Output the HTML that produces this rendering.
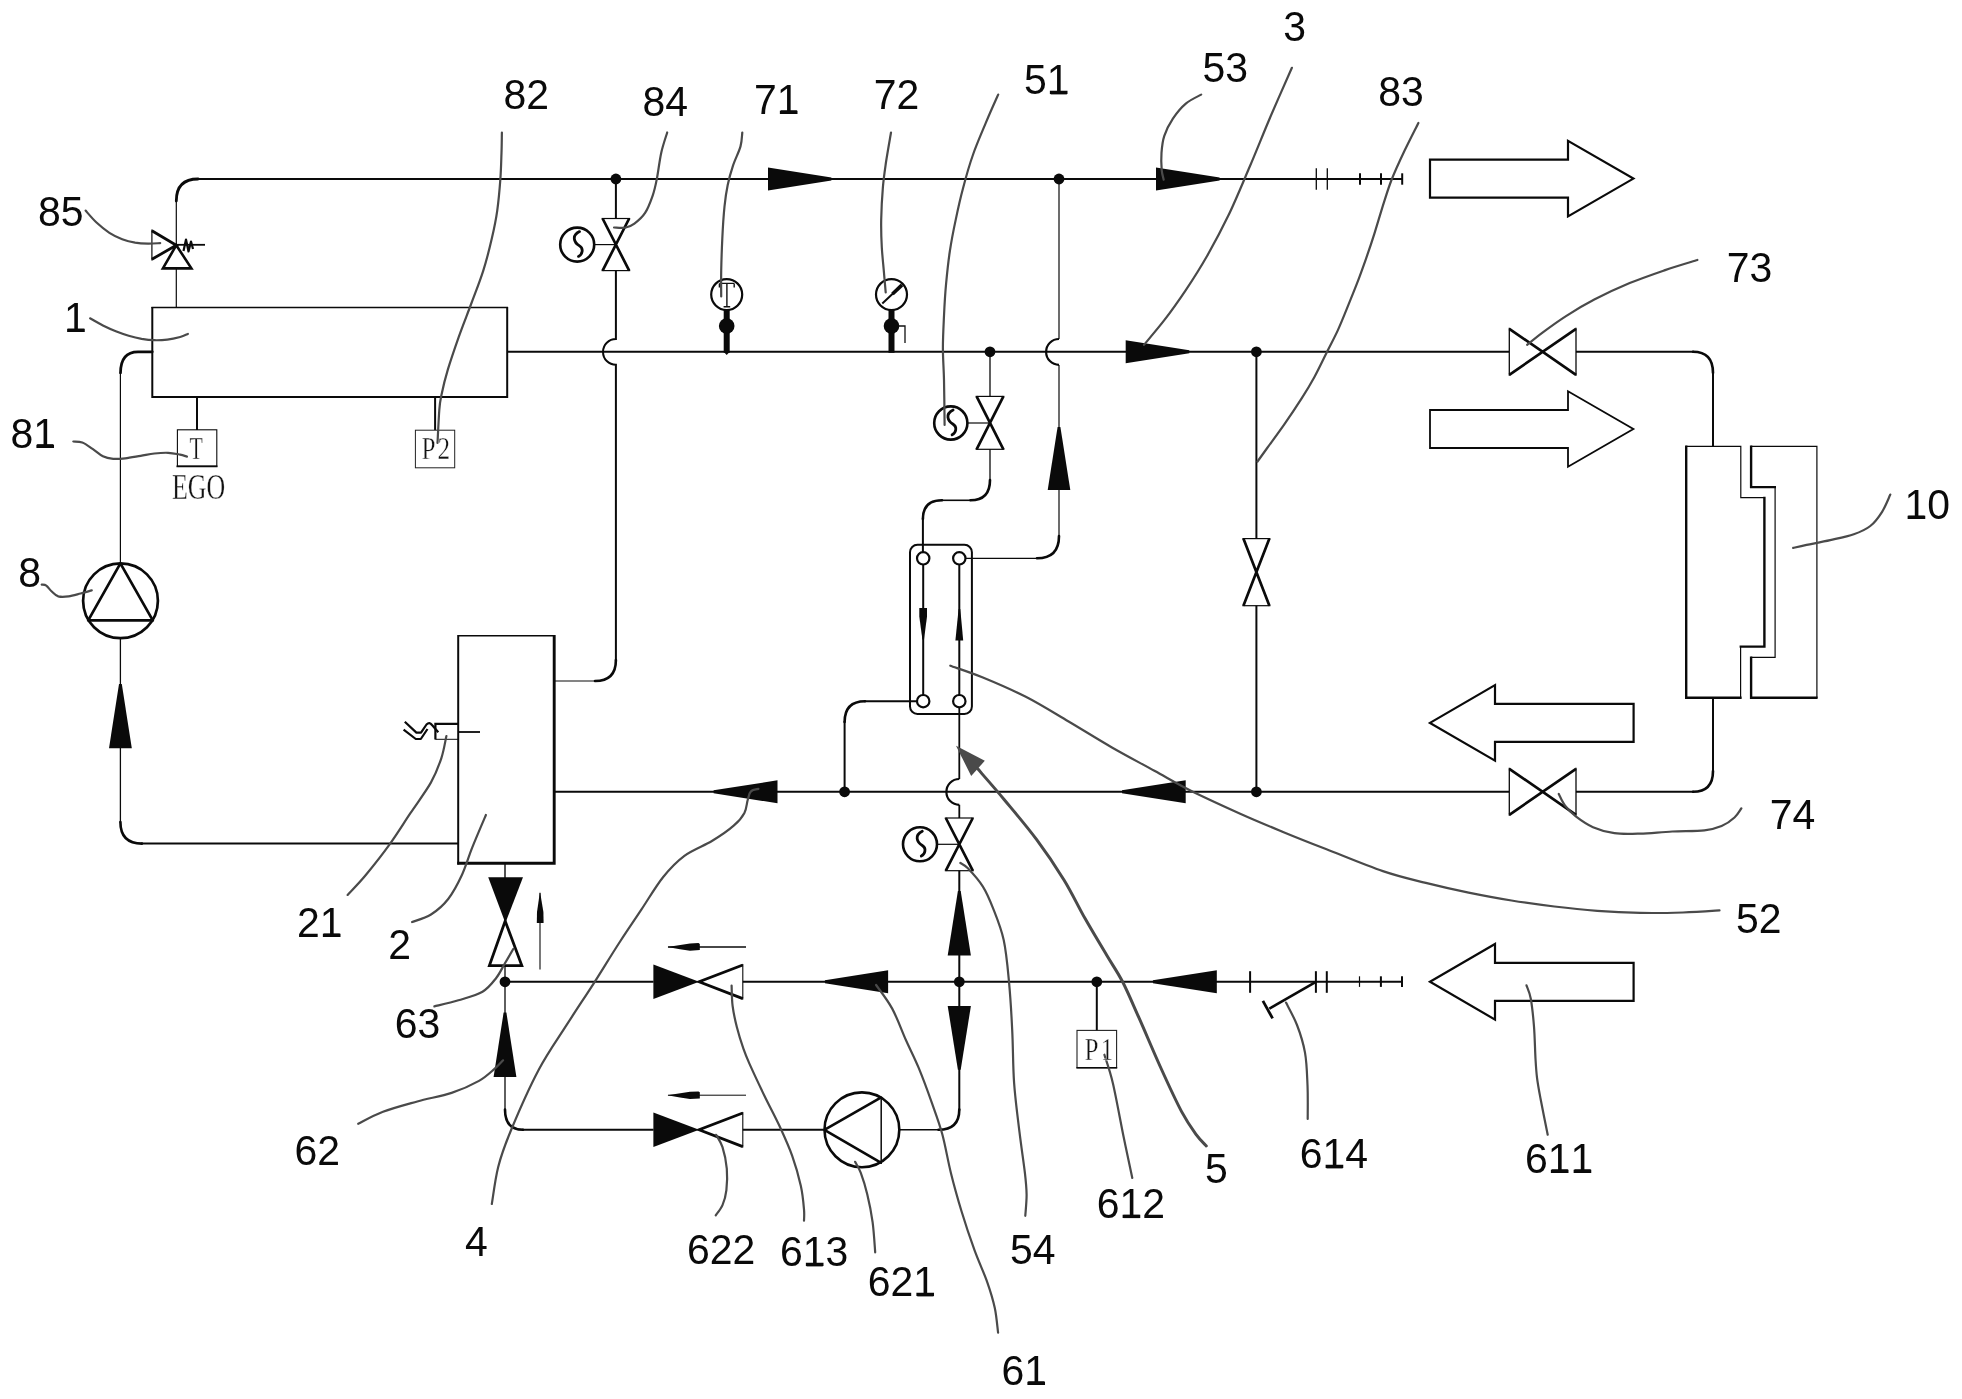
<!DOCTYPE html>
<html><head><meta charset="utf-8"><title>Schematic</title>
<style>
html,body{margin:0;padding:0;background:#fff;}
body{width:1962px;height:1399px;overflow:hidden;}
svg{display:block;will-change:transform;opacity:0.999;}
.lb{font-family:"Liberation Sans",sans-serif;fill:#0a0a0a;font-kerning:none;letter-spacing:0;}
.sf{font-family:"Liberation Serif",serif;fill:#111;stroke:#fff;stroke-width:0.35px;paint-order:fill stroke;}
</style></head>
<body>
<svg width="1962" height="1399" viewBox="0 0 1962 1399">
<rect width="1962" height="1399" fill="#fff"/>
<line x1="176.3" y1="200" x2="176.3" y2="245" stroke="#0a0a0a" stroke-width="1.2"/>
<line x1="176.3" y1="268.6" x2="176.3" y2="307.5" stroke="#0a0a0a" stroke-width="1.2"/>
<path d="M176.3,201 Q176.3,179 198,179" stroke="#0a0a0a" stroke-width="2.8" fill="none" stroke-linecap="round"/>
<line x1="197" y1="179" x2="1402.4" y2="179" stroke="#0a0a0a" stroke-width="2"/>
<line x1="1316.3" y1="168.3" x2="1316.3" y2="189.7" stroke="#0a0a0a" stroke-width="1.3"/>
<line x1="1327.3" y1="168.3" x2="1327.3" y2="189.7" stroke="#0a0a0a" stroke-width="1.3"/>
<line x1="1360" y1="173.3" x2="1360" y2="184.7" stroke="#0a0a0a" stroke-width="2"/>
<line x1="1381" y1="173.3" x2="1381" y2="184.7" stroke="#0a0a0a" stroke-width="2"/>
<line x1="1402.2" y1="173.3" x2="1402.2" y2="184.7" stroke="#0a0a0a" stroke-width="2"/>
<path d="M151.9,230.7 L176.3,245.2 L151.9,259.3" stroke="#0a0a0a" stroke-width="2.8" fill="none" stroke-linejoin="miter"/>
<line x1="151.9" y1="229.5" x2="151.9" y2="260.5" stroke="#0a0a0a" stroke-width="1.2"/>
<path d="M176.3,245.2 L162.9,268.4 L191.4,268.4 Z" stroke="#0a0a0a" stroke-width="2.6" fill="none" stroke-linejoin="miter"/>
<line x1="176.3" y1="244.8" x2="205" y2="244.8" stroke="#0a0a0a" stroke-width="1.8"/>
<path d="M183.5,251 L186,239.5 L188.5,251.5 L191,241.5 L193,249" stroke="#0a0a0a" stroke-width="2.2" fill="none" stroke-linejoin="round"/>
<path d="M151.4,307.5 H508" stroke="#0a0a0a" stroke-width="1.3" fill="none" />
<path d="M152.3,307 V396.9 H507.2 V307" stroke="#0a0a0a" stroke-width="2.0" fill="none" />
<line x1="197" y1="397" x2="197" y2="430" stroke="#0a0a0a" stroke-width="2"/>
<rect x="177.4" y="429.8" width="39.4" height="36.4" fill="none" stroke="#0a0a0a" stroke-width="1.1"/>
<line x1="176.5" y1="466.4" x2="217.5" y2="466.4" stroke="#0a0a0a" stroke-width="1.8"/>
<line x1="435.1" y1="397" x2="435.1" y2="430" stroke="#0a0a0a" stroke-width="2"/>
<rect x="415.4" y="430.2" width="39.3" height="37.6" fill="none" stroke="#222" stroke-width="1"/>
<path d="M152.3,351.8 H138 Q120.5,351.8 120.5,373" stroke="#0a0a0a" stroke-width="2.7" fill="none" stroke-linecap="round"/>
<line x1="120.4" y1="372" x2="120.4" y2="562" stroke="#0a0a0a" stroke-width="1.2"/>
<circle cx="120.5" cy="600.8" r="37.4" fill="none" stroke="#0a0a0a" stroke-width="2.7"/>
<path d="M120.4,563.4 L88.2,620.4 H152.8 Z" stroke="#0a0a0a" stroke-width="2.7" fill="none" stroke-linejoin="round"/>
<line x1="120.4" y1="639" x2="120.4" y2="823" stroke="#0a0a0a" stroke-width="1.3"/>
<path d="M120.4,822 Q120.4,843.6 142,843.6" stroke="#0a0a0a" stroke-width="2.6" fill="none" stroke-linecap="round"/>
<line x1="141" y1="843.6" x2="458" y2="843.6" stroke="#0a0a0a" stroke-width="2"/>
<polygon points="109.0,748.3 119.0,684 121.80000000000001,684 131.8,748.3" fill="#0a0a0a"/>
<path d="M458.2,635.7 H554.2" stroke="#0a0a0a" stroke-width="1.6" fill="none" />
<path d="M458.2,635 V864.5" stroke="#0a0a0a" stroke-width="2.0" fill="none" />
<path d="M457.2,863.2 H554.2 V635" stroke="#0a0a0a" stroke-width="2.9" fill="none" />
<path d="M458.2,723.9 H435.4 V739.5" stroke="#0a0a0a" stroke-width="2.2" fill="none" />
<line x1="435.4" y1="739.3" x2="458.2" y2="739.3" stroke="#0a0a0a" stroke-width="1"/>
<line x1="458.2" y1="732" x2="480" y2="732" stroke="#0a0a0a" stroke-width="1.8"/>
<path d="M404.8,721.8 L416.4,732.6 L421,732.6 L426.5,724.5 Q429.5,721.5 432,725 L438.3,732.2" stroke="#0a0a0a" stroke-width="2.2" fill="none" stroke-linejoin="round"/>
<path d="M403.6,729.6 L415.8,739 L420.8,739 L427.5,729" stroke="#0a0a0a" stroke-width="2.2" fill="none" stroke-linejoin="round"/>
<line x1="615.9" y1="179" x2="615.9" y2="218.5" stroke="#0a0a0a" stroke-width="2"/>
<path d="M602.6,218.5 L629.1999999999999,270.6 M629.1999999999999,218.5 L602.6,270.6" stroke="#0a0a0a" stroke-width="2.7" fill="none" stroke-linecap="butt"/>
<line x1="601.6" y1="218.5" x2="630.1999999999999" y2="218.5" stroke="#0a0a0a" stroke-width="1.2"/>
<line x1="601.6" y1="270.6" x2="630.1999999999999" y2="270.6" stroke="#0a0a0a" stroke-width="1.2"/>
<circle cx="577.2" cy="244.6" r="17" fill="none" stroke="#0a0a0a" stroke-width="2.6"/>
<path d="M579.5,231.6 C571.2,235.6 574.2,242.6 579.2,245.6 C584.2,248.6 582.2,254.6 578.5,256.4" stroke="#0a0a0a" stroke-width="2.8" fill="none" stroke-linecap="round"/>
<line x1="594.5" y1="244.6" x2="615.9" y2="244.6" stroke="#0a0a0a" stroke-width="1.2"/>
<path d="M615.9,270.6 V339 A12.9,12.9 0 0 0 615.9,364.8 V661" stroke="#0a0a0a" stroke-width="2" fill="none" />
<path d="M615.9,660 Q615.9,681 595,681" stroke="#0a0a0a" stroke-width="2.6" fill="none" stroke-linecap="round"/>
<line x1="554" y1="681" x2="596" y2="681" stroke="#0a0a0a" stroke-width="1.2"/>
<line x1="507" y1="351.8" x2="1509" y2="351.8" stroke="#0a0a0a" stroke-width="2"/>
<line x1="1576" y1="351.8" x2="1694" y2="351.8" stroke="#0a0a0a" stroke-width="2"/>
<path d="M1693,351.8 Q1713,351.8 1713,373" stroke="#0a0a0a" stroke-width="2.6" fill="none" stroke-linecap="round"/>
<line x1="1713" y1="372" x2="1713" y2="446.4" stroke="#0a0a0a" stroke-width="2"/>
<path d="M1509.3,328.8 L1576,374.8 M1509.3,374.8 L1576,328.8" stroke="#0a0a0a" stroke-width="2.7" fill="none" stroke-linecap="butt"/>
<line x1="1509.3" y1="327.8" x2="1509.3" y2="375.8" stroke="#0a0a0a" stroke-width="1.3"/>
<line x1="1576" y1="327.8" x2="1576" y2="375.8" stroke="#0a0a0a" stroke-width="1.3"/>
<line x1="726.7" y1="310" x2="726.7" y2="352.8" stroke="#0a0a0a" stroke-width="6"/>
<path d="M723.7,351.8 L726.7,355.0 L729.7,351.8 Z" fill="#0a0a0a"/>
<circle cx="726.7" cy="326" r="7.8" fill="#0a0a0a"/>
<circle cx="726.7" cy="294.6" r="15.5" fill="none" stroke="#0a0a0a" stroke-width="2.2"/>
<line x1="891.5" y1="310" x2="891.5" y2="352.8" stroke="#0a0a0a" stroke-width="6"/>
<circle cx="891.5" cy="326" r="7.8" fill="#0a0a0a"/>
<circle cx="891.5" cy="294.6" r="15.5" fill="none" stroke="#0a0a0a" stroke-width="2.2"/>
<path d="M719.4,283.4 H734.2 M726.9,283.4 V306.8 M723.6,306.8 H730.2 M719.4,283.4 V287.4 M734.2,283.4 V287.4" stroke="#111" stroke-width="1.4" fill="none" />
<line x1="882.3" y1="303.4" x2="902" y2="285" stroke="#0a0a0a" stroke-width="2"/>
<path d="M892.5,294 L901.8,285.2" stroke="#0a0a0a" stroke-width="3.7" fill="none" stroke-linecap="butt"/>
<path d="M898,326 H905 V343" stroke="#111" stroke-width="1.3" fill="none" />
<line x1="990" y1="351.8" x2="990" y2="396.4" stroke="#0a0a0a" stroke-width="1.3"/>
<path d="M976.6,396.4 L1003.4,449.3 M1003.4,396.4 L976.6,449.3" stroke="#0a0a0a" stroke-width="2.7" fill="none" stroke-linecap="butt"/>
<line x1="975.6" y1="396.4" x2="1004.4" y2="396.4" stroke="#0a0a0a" stroke-width="1.2"/>
<line x1="975.6" y1="449.3" x2="1004.4" y2="449.3" stroke="#0a0a0a" stroke-width="1.2"/>
<circle cx="950.8" cy="423" r="16.6" fill="none" stroke="#0a0a0a" stroke-width="2.6"/>
<path d="M953.0999999999999,410 C944.8,414 947.8,421 952.8,424 C957.8,427 955.8,433 952.0999999999999,434.8" stroke="#0a0a0a" stroke-width="2.8" fill="none" stroke-linecap="round"/>
<line x1="967.6" y1="423" x2="990" y2="423" stroke="#0a0a0a" stroke-width="1.2"/>
<line x1="990" y1="449.3" x2="990" y2="481" stroke="#0a0a0a" stroke-width="1.3"/>
<path d="M990,480 Q990,500.3 970.5,500.3" stroke="#0a0a0a" stroke-width="2.6" fill="none" stroke-linecap="round"/>
<line x1="941" y1="500.3" x2="971" y2="500.3" stroke="#0a0a0a" stroke-width="1.6"/>
<path d="M942,500.3 Q922.9,500.3 922.9,519" stroke="#0a0a0a" stroke-width="2.6" fill="none" stroke-linecap="round"/>
<line x1="922.9" y1="518" x2="922.9" y2="552" stroke="#0a0a0a" stroke-width="2"/>
<path d="M1059,179 V339" stroke="#0a0a0a" stroke-width="1.2" fill="none" />
<path d="M1059,339 A12.9,12.9 0 0 0 1059,364.8" stroke="#0a0a0a" stroke-width="2.2" fill="none" />
<path d="M1059,365 V537" stroke="#0a0a0a" stroke-width="1.2" fill="none" />
<path d="M1059,536 Q1059,558.3 1037,558.3" stroke="#0a0a0a" stroke-width="2.6" fill="none" stroke-linecap="round"/>
<line x1="966" y1="558.3" x2="1038" y2="558.3" stroke="#0a0a0a" stroke-width="1.2"/>
<polygon points="1047.7,490 1057.6,427 1060.4,427 1070.3,490" fill="#0a0a0a"/>
<line x1="1256.4" y1="351.8" x2="1256.4" y2="538.6" stroke="#0a0a0a" stroke-width="2"/>
<path d="M1243.4,538.6 L1269.4,605.7 M1269.4,538.6 L1243.4,605.7" stroke="#0a0a0a" stroke-width="2.7" fill="none" stroke-linecap="butt"/>
<line x1="1242.4" y1="538.6" x2="1270.4" y2="538.6" stroke="#0a0a0a" stroke-width="1.2"/>
<line x1="1242.4" y1="605.7" x2="1270.4" y2="605.7" stroke="#0a0a0a" stroke-width="1.2"/>
<line x1="1256.4" y1="605.7" x2="1256.4" y2="791.8" stroke="#0a0a0a" stroke-width="2"/>
<line x1="554" y1="791.8" x2="1509" y2="791.8" stroke="#0a0a0a" stroke-width="2"/>
<line x1="1576" y1="791.8" x2="1694" y2="791.8" stroke="#0a0a0a" stroke-width="2"/>
<path d="M1693,791.8 Q1713,791.8 1713,771" stroke="#0a0a0a" stroke-width="2.6" fill="none" stroke-linecap="round"/>
<line x1="1713" y1="697.8" x2="1713" y2="772" stroke="#0a0a0a" stroke-width="2"/>
<path d="M1509.3,768.8 L1576,814.8 M1509.3,814.8 L1576,768.8" stroke="#0a0a0a" stroke-width="2.7" fill="none" stroke-linecap="butt"/>
<line x1="1509.3" y1="767.8" x2="1509.3" y2="815.8" stroke="#0a0a0a" stroke-width="1.3"/>
<line x1="1576" y1="767.8" x2="1576" y2="815.8" stroke="#0a0a0a" stroke-width="1.3"/>
<rect x="910" y="544.8" width="61.9" height="169.2" rx="7.5" ry="7.5" fill="none" stroke="#0a0a0a" stroke-width="2"/>
<line x1="923.2" y1="565" x2="923.2" y2="695" stroke="#0a0a0a" stroke-width="2"/>
<circle cx="923.2" cy="558.3" r="6.2" fill="#fff" stroke="#0a0a0a" stroke-width="2.2"/>
<circle cx="923.2" cy="701.2" r="6.2" fill="#fff" stroke="#0a0a0a" stroke-width="2.2"/>
<line x1="959.3" y1="565" x2="959.3" y2="695" stroke="#0a0a0a" stroke-width="2"/>
<circle cx="959.3" cy="558.3" r="6.2" fill="#fff" stroke="#0a0a0a" stroke-width="2.2"/>
<circle cx="959.3" cy="701.2" r="6.2" fill="#fff" stroke="#0a0a0a" stroke-width="2.2"/>
<polygon points="919.3,608 927,608 927,616.5 924,639.5 922.4,639.5 919.3,616.5" fill="#0a0a0a"/>
<polygon points="955.4,640.5 963.2,640.5 960.3,609 958.6,609" fill="#0a0a0a"/>
<line x1="864" y1="701.2" x2="917" y2="701.2" stroke="#0a0a0a" stroke-width="2"/>
<path d="M865,701.2 Q844.6,701.2 844.6,722" stroke="#0a0a0a" stroke-width="2.6" fill="none" stroke-linecap="round"/>
<line x1="844.6" y1="721" x2="844.6" y2="791.8" stroke="#0a0a0a" stroke-width="2"/>
<path d="M959.3,707.5 V779" stroke="#0a0a0a" stroke-width="1.8" fill="none" />
<path d="M959.3,779 A12.9,12.9 0 0 0 959.3,804.8" stroke="#0a0a0a" stroke-width="2.2" fill="none" />
<path d="M959.3,804.8 V818" stroke="#0a0a0a" stroke-width="1.8" fill="none" />
<path d="M945.8,818 L972.8,870.7 M972.8,818 L945.8,870.7" stroke="#0a0a0a" stroke-width="2.7" fill="none" stroke-linecap="butt"/>
<line x1="944.8" y1="818" x2="973.8" y2="818" stroke="#0a0a0a" stroke-width="1.2"/>
<line x1="944.8" y1="870.7" x2="973.8" y2="870.7" stroke="#0a0a0a" stroke-width="1.2"/>
<circle cx="920" cy="844.3" r="17" fill="none" stroke="#0a0a0a" stroke-width="2.6"/>
<path d="M922.3,831.3 C914,835.3 917,842.3 922,845.3 C927,848.3 925,854.3 921.3,856.0999999999999" stroke="#0a0a0a" stroke-width="2.8" fill="none" stroke-linecap="round"/>
<line x1="937" y1="844.3" x2="959.3" y2="844.3" stroke="#0a0a0a" stroke-width="1.2"/>
<line x1="959.3" y1="870.7" x2="959.3" y2="1110.5" stroke="#0a0a0a" stroke-width="2"/>
<path d="M959.3,1109.5 Q959.3,1129.8 938.5,1129.8" stroke="#0a0a0a" stroke-width="2.6" fill="none" stroke-linecap="round"/>
<line x1="899" y1="1129.8" x2="939.5" y2="1129.8" stroke="#0a0a0a" stroke-width="1.6"/>
<polygon points="947.6999999999999,955.4 957.9,891 960.6999999999999,891 970.9,955.4" fill="#0a0a0a"/>
<polygon points="947.6999999999999,1006 957.9,1069.7 960.6999999999999,1069.7 970.9,1006" fill="#0a0a0a"/>
<line x1="505" y1="981.8" x2="653.6" y2="981.8" stroke="#0a0a0a" stroke-width="2"/>
<line x1="742.8" y1="981.8" x2="1402.2" y2="981.8" stroke="#0a0a0a" stroke-width="2"/>
<line x1="1250.1" y1="971.2" x2="1250.1" y2="992.8" stroke="#0a0a0a" stroke-width="2"/>
<line x1="1315.9" y1="971.2" x2="1315.9" y2="992.8" stroke="#0a0a0a" stroke-width="2"/>
<line x1="1326.8" y1="971.2" x2="1326.8" y2="992.8" stroke="#0a0a0a" stroke-width="2"/>
<line x1="1359.5" y1="976.3" x2="1359.5" y2="986.9" stroke="#0a0a0a" stroke-width="1.2"/>
<line x1="1380.9" y1="976.3" x2="1380.9" y2="986.9" stroke="#0a0a0a" stroke-width="2"/>
<line x1="1402" y1="976.3" x2="1402" y2="986.9" stroke="#0a0a0a" stroke-width="2"/>
<line x1="1315.9" y1="981.8" x2="1269.3" y2="1008.7" stroke="#0a0a0a" stroke-width="2.6"/>
<line x1="1262.9" y1="1000.9" x2="1272.6" y2="1018.4" stroke="#0a0a0a" stroke-width="2.8"/>
<line x1="1096.8" y1="981.8" x2="1096.8" y2="1030.5" stroke="#0a0a0a" stroke-width="2"/>
<rect x="1077" y="1030.4" width="39.6" height="37.4" fill="none" stroke="#222" stroke-width="1.1"/>
<line x1="1076.4" y1="1067.8" x2="1117.2" y2="1067.8" stroke="#0a0a0a" stroke-width="1.6"/>
<polygon points="653.4,964.5 699.1,981.8 653.4,999.0999999999999" fill="#0a0a0a"/>
<path d="M742.8,965.0 L699.1,981.8 L742.8,998.5999999999999" stroke="#0a0a0a" stroke-width="2.8" fill="none" stroke-linejoin="miter"/>
<line x1="742.8" y1="964.0" x2="742.8" y2="999.5999999999999" stroke="#0a0a0a" stroke-width="1.1"/>
<polygon points="653.4,1112.5 699.1,1129.8 653.4,1147.1" fill="#0a0a0a"/>
<path d="M742.8,1113.0 L699.1,1129.8 L742.8,1146.6" stroke="#0a0a0a" stroke-width="2.8" fill="none" stroke-linejoin="miter"/>
<line x1="742.8" y1="1112.0" x2="742.8" y2="1147.6" stroke="#0a0a0a" stroke-width="1.1"/>
<line x1="668" y1="946.9" x2="746" y2="946.9" stroke="#0a0a0a" stroke-width="1.5"/>
<polygon points="667.4,946.9 690,943.5 698.5,943.1 699.8,943.9 699.8,950.1 690,950.6999999999999 680,949.3" fill="#0a0a0a"/>
<line x1="668" y1="1095.2" x2="746" y2="1095.2" stroke="#0a0a0a" stroke-width="1.0"/>
<polygon points="667.4,1095.2 690,1091.8 698.5,1091.4 699.8,1092.2 699.8,1098.4 690,1099.0 680,1097.6000000000001" fill="#0a0a0a"/>
<line x1="505" y1="863" x2="505" y2="878" stroke="#0a0a0a" stroke-width="1.4"/>
<polygon points="488.2,877.2 523,877.2 505.4,923" fill="#0a0a0a"/>
<path d="M505.2,921 L489.4,965.6 H521.8 Z" stroke="#0a0a0a" stroke-width="2.8" fill="none" stroke-linejoin="miter"/>
<line x1="540" y1="893" x2="540" y2="969.5" stroke="#0a0a0a" stroke-width="1.1"/>
<polygon points="540,891.5 543.4,912 543.6,923 536.8,923 537,912" fill="#0a0a0a"/>
<line x1="505" y1="966" x2="505" y2="1110.5" stroke="#0a0a0a" stroke-width="1.3"/>
<path d="M505,1109.5 Q505,1129.8 523,1129.8" stroke="#0a0a0a" stroke-width="2.6" fill="none" stroke-linecap="round"/>
<line x1="522" y1="1129.8" x2="653.6" y2="1129.8" stroke="#0a0a0a" stroke-width="2"/>
<line x1="742.8" y1="1129.8" x2="823.5" y2="1129.8" stroke="#0a0a0a" stroke-width="2"/>
<polygon points="493.6,1076.9 503.6,1012.6 506.4,1012.6 516.4,1076.9" fill="#0a0a0a"/>
<circle cx="861.9" cy="1129.8" r="37.4" fill="none" stroke="#0a0a0a" stroke-width="2.6"/>
<path d="M881.2,1097.4 L824.4,1129.8 L881.2,1162.8" stroke="#0a0a0a" stroke-width="2.6" fill="none" stroke-linejoin="round"/>
<line x1="881.2" y1="1096.5" x2="881.2" y2="1164" stroke="#0a0a0a" stroke-width="1.5"/>
<polygon points="768,167.5 831.4,177.5 831.4,180.5 768,190.5" fill="#0a0a0a"/>
<polygon points="1156,167.5 1219.6,177.5 1219.6,180.5 1156,190.5" fill="#0a0a0a"/>
<polygon points="1125.7,340.3 1189.3,350.3 1189.3,353.3 1125.7,363.3" fill="#0a0a0a"/>
<polygon points="777.5,780.3 713.6,790.3 713.6,793.3 777.5,803.3" fill="#0a0a0a"/>
<polygon points="1185.7,780.3 1122,790.3 1122,793.3 1185.7,803.3" fill="#0a0a0a"/>
<polygon points="888.1,970.3 824.9,980.3 824.9,983.3 888.1,993.3" fill="#0a0a0a"/>
<polygon points="1216.8,970.3 1152.9,980.3 1152.9,983.3 1216.8,993.3" fill="#0a0a0a"/>
<circle cx="615.9" cy="179" r="5.4" fill="#0a0a0a"/>
<circle cx="1059" cy="179" r="5.4" fill="#0a0a0a"/>
<circle cx="990" cy="351.8" r="5.4" fill="#0a0a0a"/>
<circle cx="1256.4" cy="351.8" r="5.4" fill="#0a0a0a"/>
<circle cx="844.6" cy="791.8" r="5.4" fill="#0a0a0a"/>
<circle cx="1256.4" cy="791.8" r="5.4" fill="#0a0a0a"/>
<circle cx="505" cy="981.8" r="5.4" fill="#0a0a0a"/>
<circle cx="959.3" cy="981.8" r="5.4" fill="#0a0a0a"/>
<circle cx="1096.8" cy="981.8" r="5.4" fill="#0a0a0a"/>
<path d="M1686.2,446.4 H1740.8 V497.6 H1764" stroke="#0a0a0a" stroke-width="1.2" fill="none" />
<path d="M1686.2,445.6 V697.8 H1741.6" stroke="#0a0a0a" stroke-width="2.4" fill="none" />
<path d="M1764.4,496.8 V646.6 H1739.6" stroke="#0a0a0a" stroke-width="2.4" fill="none" />
<path d="M1740.6,646.6 V698.6" stroke="#0a0a0a" stroke-width="1.2" fill="none" />
<path d="M1751.1,445.6 V487.1 H1776" stroke="#0a0a0a" stroke-width="2.4" fill="none" />
<path d="M1775.1,487.1 V657.3 H1751.1" stroke="#0a0a0a" stroke-width="1.2" fill="none" />
<path d="M1751.1,656.5 V697.8 H1817.6" stroke="#0a0a0a" stroke-width="2.4" fill="none" />
<path d="M1816.9,698 V446.4 H1751.1" stroke="#0a0a0a" stroke-width="1.2" fill="none" />
<path d="M1430,159.6 H1568 V140.8 L1633.4,178.6 L1568,216.39999999999998 V197.6 H1430 Z" stroke="#0a0a0a" stroke-width="2.2" fill="none" stroke-linejoin="miter"/>
<path d="M1430,410 H1568 V391.2 L1633.4,429 L1568,466.8 V448 H1430 Z" stroke="#0a0a0a" stroke-width="1.8" fill="none" stroke-linejoin="miter"/>
<path d="M1430,722.9 L1495,685.1 V703.9 H1633.6 V741.9 H1495 V760.6999999999999 Z" stroke="#0a0a0a" stroke-width="2.2" fill="none" stroke-linejoin="miter"/>
<path d="M1430,981.8 L1495,944.0 V962.8 H1633.6 V1000.8 H1495 V1019.5999999999999 Z" stroke="#0a0a0a" stroke-width="2.2" fill="none" stroke-linejoin="miter"/>
<polygon points="956,745.7 984.8,760.8 971.2,776" fill="#4a4a4a"/>
<path d="M85.6,210.6 C87.4,212.6 92.5,218.8 96.5,222.5 C100.5,226.2 105.1,230.0 109.4,232.8 C113.7,235.6 117.9,237.5 122.2,239.2 C126.5,240.8 130.8,241.9 135.1,242.7 C139.4,243.4 143.8,243.6 148.0,243.7 C152.2,243.8 158.2,243.2 160.2,243.1" stroke="#4a4a4a" stroke-width="2.2" fill="none" stroke-linecap="round"/>
<path d="M90.1,318.3 C92.2,319.5 98.6,323.2 102.9,325.4 C107.2,327.5 111.5,329.5 115.8,331.2 C120.1,332.9 124.4,334.4 128.7,335.7 C133.0,337.0 137.3,338.1 141.6,338.9 C145.9,339.6 150.1,340.1 154.4,340.2 C158.7,340.3 163.0,340.1 167.3,339.6 C171.6,339.1 176.8,337.9 180.2,337.0 C183.6,336.1 186.6,334.5 187.9,334.0" stroke="#4a4a4a" stroke-width="2.2" fill="none" stroke-linecap="round"/>
<path d="M73.3,441.5 C74.8,441.7 79.1,441.3 82.3,442.5 C85.5,443.7 89.2,446.6 92.6,448.9 C96.0,451.2 99.5,454.6 102.9,456.3 C106.3,458.0 109.5,458.5 113.2,458.8 C116.9,459.1 120.6,458.8 125.2,458.3 C129.8,457.8 135.8,456.6 140.7,455.8 C145.6,455.0 149.8,454.0 154.4,453.5 C159.0,453.0 163.8,452.6 168.1,452.8 C172.4,453.0 176.9,454.0 180.1,454.6 C183.2,455.2 185.8,456.3 187.0,456.6" stroke="#4a4a4a" stroke-width="2.2" fill="none" stroke-linecap="round"/>
<path d="M501.9,132.5 C501.8,135.9 501.8,145.2 501.5,152.9 C501.2,160.6 501.1,168.9 500.4,178.6 C499.7,188.2 498.6,200.8 497.2,210.8 C495.8,220.8 494.1,228.6 491.8,238.6 C489.5,248.6 486.6,260.1 483.2,270.8 C479.8,281.5 475.6,291.9 471.5,303.0 C467.4,314.1 462.5,326.2 458.6,337.3 C454.7,348.4 450.8,359.8 447.9,369.4 C445.0,379.0 442.8,388.4 441.4,395.2 C440.0,402.0 439.9,402.0 439.3,410.0 C438.7,418.0 437.8,437.5 437.5,443.0" stroke="#4a4a4a" stroke-width="2.2" fill="none" stroke-linecap="round"/>
<path d="M667.2,132.5 C666.2,135.9 662.9,145.2 661.2,152.9 C659.5,160.6 658.3,171.4 656.9,178.6 C655.5,185.8 654.6,190.1 652.6,195.8 C650.6,201.5 648.1,208.3 645.1,212.9 C642.1,217.5 637.6,221.2 634.4,223.6 C631.2,226.0 629.2,226.8 625.8,227.5 C622.4,228.2 616.0,227.5 614.0,227.5" stroke="#4a4a4a" stroke-width="2.2" fill="none" stroke-linecap="round"/>
<path d="M742.3,132.5 C742.0,134.8 742.0,140.9 740.5,146.4 C739.0,151.9 735.1,159.3 733.0,165.7 C730.9,172.1 729.1,178.2 727.7,185.0 C726.3,191.8 725.4,197.6 724.5,206.5 C723.6,215.4 722.8,227.9 722.3,238.6 C721.8,249.3 721.4,261.2 721.2,270.8 C721.0,280.4 721.2,292.2 721.2,296.5" stroke="#4a4a4a" stroke-width="2.2" fill="none" stroke-linecap="round"/>
<path d="M891.0,132.5 C890.2,137.3 887.5,152.4 886.1,161.5 C884.8,170.6 883.7,177.5 882.9,187.2 C882.1,196.8 881.4,209.4 881.2,219.4 C881.0,229.4 881.3,238.3 881.8,247.2 C882.3,256.1 883.4,265.5 884.0,273.0 C884.6,280.5 885.4,289.1 885.7,292.3" stroke="#4a4a4a" stroke-width="2.2" fill="none" stroke-linecap="round"/>
<path d="M998.2,94.6 C996.1,99.3 990.0,112.8 985.8,122.9 C981.6,133.0 976.6,144.3 972.9,155.0 C969.1,165.7 966.1,176.5 963.3,187.2 C960.4,197.9 958.0,208.7 955.8,219.4 C953.5,230.1 951.4,240.8 949.8,251.5 C948.2,262.2 947.1,273.0 946.1,283.7 C945.1,294.4 944.5,305.1 944.0,315.8 C943.5,326.5 942.9,337.3 942.9,348.0 C942.9,358.7 943.7,367.2 944.0,380.0 C944.3,392.8 944.5,417.5 944.6,425.0" stroke="#4a4a4a" stroke-width="2.2" fill="none" stroke-linecap="round"/>
<path d="M1201.2,94.6 C1198.6,96.1 1190.5,99.6 1185.8,103.6 C1181.1,107.6 1176.5,113.2 1172.9,118.6 C1169.3,124.0 1166.2,130.1 1164.3,135.8 C1162.4,141.5 1161.9,147.2 1161.5,152.9 C1161.1,158.6 1161.3,165.6 1161.7,170.1 C1162.1,174.6 1163.4,178.1 1163.7,179.7" stroke="#4a4a4a" stroke-width="2.2" fill="none" stroke-linecap="round"/>
<path d="M1291.9,67.8 C1288.5,75.5 1278.5,98.0 1271.5,114.3 C1264.5,130.6 1257.2,149.0 1250.1,165.8 C1242.9,182.6 1235.8,200.1 1228.6,215.1 C1221.4,230.1 1214.3,243.3 1207.2,255.8 C1200.1,268.3 1193.0,279.4 1185.8,290.1 C1178.6,300.8 1171.3,311.1 1164.3,320.2 C1157.3,329.3 1147.4,340.7 1144.0,344.8" stroke="#4a4a4a" stroke-width="2.2" fill="none" stroke-linecap="round"/>
<path d="M1418.4,122.9 C1416.1,127.6 1409.0,141.3 1404.5,150.8 C1400.0,160.3 1395.1,170.8 1391.5,180.0 C1387.9,189.2 1385.8,196.8 1382.9,205.7 C1380.1,214.6 1377.2,224.7 1374.4,233.6 C1371.6,242.5 1368.7,251.1 1365.8,259.3 C1362.9,267.5 1360.1,275.4 1357.2,282.9 C1354.3,290.4 1351.8,296.5 1348.6,304.4 C1345.4,312.3 1341.5,322.2 1337.9,330.1 C1334.3,338.0 1331.1,343.6 1327.2,351.5 C1323.3,359.4 1318.6,369.4 1314.3,377.3 C1310.0,385.2 1306.5,390.9 1301.5,398.7 C1296.5,406.5 1290.0,416.2 1284.3,424.4 C1278.6,432.6 1271.7,441.8 1267.2,448.0 C1262.7,454.2 1259.1,459.2 1257.5,461.5" stroke="#4a4a4a" stroke-width="2.2" fill="none" stroke-linecap="round"/>
<path d="M1697.4,260.0 C1692.0,261.7 1676.4,266.2 1665.1,270.1 C1653.8,274.0 1641.5,278.2 1629.7,283.1 C1617.9,288.0 1604.9,294.1 1594.3,299.6 C1583.7,305.1 1574.6,310.6 1566.0,316.1 C1557.4,321.6 1549.0,327.8 1542.5,332.6 C1536.0,337.4 1529.7,342.8 1527.1,344.9" stroke="#4a4a4a" stroke-width="2.2" fill="none" stroke-linecap="round"/>
<path d="M1890.3,494.6 C1888.9,497.5 1885.4,506.6 1882.1,511.8 C1878.8,517.0 1875.0,522.3 1870.3,526.0 C1865.6,529.7 1860.5,531.9 1853.8,534.2 C1847.1,536.6 1838.1,538.3 1830.2,540.1 C1822.3,541.9 1812.8,543.6 1806.6,544.9 C1800.4,546.2 1795.4,547.4 1793.2,547.9" stroke="#4a4a4a" stroke-width="2.2" fill="none" stroke-linecap="round"/>
<path d="M1558.7,793.9 C1559.8,795.9 1562.2,802.0 1565.1,805.7 C1567.9,809.5 1571.1,812.8 1575.8,816.4 C1580.5,820.0 1586.6,824.4 1593.0,827.2 C1599.4,830.0 1606.5,832.1 1614.4,833.2 C1622.3,834.3 1630.6,833.9 1640.2,833.6 C1649.8,833.3 1661.6,832.0 1672.3,831.5 C1683.0,831.0 1696.3,831.3 1704.5,830.4 C1712.7,829.5 1716.6,828.2 1721.6,826.1 C1726.6,824.0 1731.2,820.5 1734.5,817.5 C1737.8,814.5 1740.2,809.8 1741.4,808.3" stroke="#4a4a4a" stroke-width="2.2" fill="none" stroke-linecap="round"/>
<path d="M950.3,665.7 C955.7,667.7 970.3,672.3 982.9,677.5 C995.5,682.7 1011.5,689.5 1025.8,696.8 C1040.1,704.1 1054.3,713.1 1068.6,721.5 C1082.9,729.9 1097.2,739.0 1111.5,747.2 C1125.8,755.4 1141.2,763.5 1154.4,770.8 C1167.6,778.0 1176.6,783.6 1190.9,790.7 C1205.2,797.9 1224.9,806.8 1240.2,813.7 C1255.5,820.6 1268.7,826.0 1283.0,831.9 C1297.3,837.8 1309.2,842.5 1325.9,849.0 C1342.6,855.5 1366.2,865.5 1382.9,871.1 C1399.6,876.8 1411.5,879.3 1425.8,882.9 C1440.1,886.5 1454.3,889.7 1468.6,892.6 C1482.9,895.5 1497.2,898.2 1511.5,900.5 C1525.8,902.8 1540.1,904.8 1554.4,906.5 C1568.7,908.2 1583.0,909.7 1597.3,910.8 C1611.6,911.9 1625.9,912.6 1640.2,912.9 C1654.5,913.2 1669.8,912.9 1683.0,912.5 C1696.2,912.1 1713.4,910.8 1719.5,910.4" stroke="#4a4a4a" stroke-width="2.2" fill="none" stroke-linecap="round"/>
<path d="M41.7,584.6 C42.5,584.8 44.7,584.5 46.3,585.6 C47.9,586.7 49.5,589.5 51.5,591.3 C53.5,593.1 55.4,595.5 58.3,596.4 C61.1,597.2 64.9,596.9 68.6,596.4 C72.3,595.9 76.7,594.5 80.6,593.5 C84.5,592.5 89.9,590.9 91.8,590.4" stroke="#4a4a4a" stroke-width="2.2" fill="none" stroke-linecap="round"/>
<path d="M347.6,894.9 C350.6,891.6 358.8,883.5 365.8,875.0 C372.8,866.5 382.4,854.4 389.8,844.1 C397.2,833.8 403.5,823.5 410.4,813.2 C417.3,802.9 425.9,791.5 431.0,782.4 C436.1,773.2 438.7,766.0 441.3,758.3 C443.9,750.6 445.5,739.7 446.4,736.0" stroke="#4a4a4a" stroke-width="2.2" fill="none" stroke-linecap="round"/>
<path d="M412.1,922.0 C415.2,920.8 425.0,918.3 431.0,914.5 C437.0,910.7 443.1,905.6 448.2,899.0 C453.3,892.4 457.9,883.6 461.9,875.0 C465.9,866.4 468.2,857.6 472.2,847.6 C476.2,837.6 483.6,820.4 485.9,815.0" stroke="#4a4a4a" stroke-width="2.2" fill="none" stroke-linecap="round"/>
<path d="M434.4,1006.4 C438.4,1005.4 450.4,1002.8 458.4,1000.3 C466.4,997.8 476.2,995.4 482.5,991.7 C488.8,988.0 492.5,982.7 496.2,978.0 C499.9,973.3 501.9,968.4 504.8,963.5 C507.7,958.6 512.0,951.2 513.4,948.8" stroke="#4a4a4a" stroke-width="2.2" fill="none" stroke-linecap="round"/>
<path d="M358.2,1123.8 C362.3,1121.8 373.1,1115.5 383.0,1111.8 C392.9,1108.1 405.9,1104.7 417.3,1101.5 C428.7,1098.3 441.3,1096.3 451.6,1092.9 C461.9,1089.5 471.9,1084.9 479.0,1080.9 C486.1,1076.9 490.5,1072.3 494.5,1068.9 C498.5,1065.5 501.7,1061.7 503.1,1060.3" stroke="#4a4a4a" stroke-width="2.2" fill="none" stroke-linecap="round"/>
<path d="M758.4,788.9 C757.1,789.3 752.7,789.5 750.9,791.4 C749.1,793.2 748.8,796.4 747.7,800.0 C746.6,803.6 746.7,808.6 744.4,812.9 C742.1,817.2 739.1,821.1 733.7,825.7 C728.4,830.4 720.5,835.8 712.3,840.8 C704.1,845.8 692.6,849.7 684.4,855.8 C676.2,861.9 670.1,868.3 663.0,877.2 C655.9,886.1 648.6,898.7 641.5,909.4 C634.4,920.1 628.0,929.4 620.1,941.5 C612.2,953.6 603.3,968.3 594.4,982.3 C585.5,996.2 575.8,1010.6 566.5,1025.2 C557.2,1039.8 547.9,1052.4 538.6,1070.0 C529.3,1087.6 517.4,1114.8 510.7,1131.0 C504.0,1147.2 501.3,1154.7 498.2,1166.9 C495.1,1179.1 492.9,1197.8 491.8,1204.0" stroke="#4a4a4a" stroke-width="2.2" fill="none" stroke-linecap="round"/>
<path d="M716.1,1134.8 C717.2,1136.9 720.7,1141.6 722.5,1147.2 C724.3,1152.8 726.1,1161.4 726.8,1168.6 C727.4,1175.8 727.1,1184.0 726.4,1190.1 C725.7,1196.2 724.3,1200.9 722.5,1205.1 C720.7,1209.3 716.8,1213.7 715.7,1215.4" stroke="#4a4a4a" stroke-width="2.2" fill="none" stroke-linecap="round"/>
<path d="M731.6,985.5 C731.8,988.9 731.7,998.9 732.6,1005.9 C733.5,1012.9 735.1,1020.2 736.9,1027.3 C738.7,1034.4 741.3,1042.7 743.4,1048.7 C745.5,1054.8 745.9,1055.8 749.4,1063.6 C752.9,1071.4 759.4,1085.3 764.4,1095.7 C769.4,1106.1 774.8,1115.8 779.4,1125.8 C784.0,1135.8 788.6,1145.8 792.2,1155.8 C795.8,1165.8 798.8,1176.9 800.8,1185.8 C802.8,1194.7 803.5,1203.6 804.0,1209.4 C804.5,1215.2 804.0,1218.8 804.0,1220.7" stroke="#4a4a4a" stroke-width="2.2" fill="none" stroke-linecap="round"/>
<path d="M855.1,1161.8 C856.0,1163.7 858.8,1167.5 860.8,1172.9 C862.8,1178.3 865.3,1186.2 867.3,1194.4 C869.3,1202.6 871.3,1212.6 872.6,1222.2 C873.9,1231.8 874.8,1247.3 875.2,1252.3" stroke="#4a4a4a" stroke-width="2.2" fill="none" stroke-linecap="round"/>
<path d="M876.1,985.0 C878.8,988.9 887.2,999.4 892.2,1008.6 C897.2,1017.8 901.5,1030.1 905.9,1040.0 C910.3,1049.9 914.4,1057.5 918.7,1067.9 C923.0,1078.3 927.7,1091.1 931.6,1102.2 C935.5,1113.3 939.1,1122.5 942.3,1134.3 C945.5,1146.1 947.7,1160.0 950.9,1172.9 C954.1,1185.8 957.7,1198.6 961.6,1211.5 C965.5,1224.4 970.2,1238.3 974.5,1250.1 C978.8,1261.9 983.9,1272.6 987.3,1282.3 C990.7,1292.0 993.0,1299.6 994.8,1308.0 C996.6,1316.4 997.5,1328.6 998.1,1332.7" stroke="#4a4a4a" stroke-width="2.2" fill="none" stroke-linecap="round"/>
<path d="M960.4,863.0 C961.6,863.9 964.1,864.4 967.9,868.3 C971.6,872.2 978.7,880.0 982.9,886.6 C987.1,893.2 989.4,899.0 992.9,907.9 C996.4,916.8 1001.0,927.7 1003.7,940.0 C1006.4,952.3 1007.6,966.8 1009.0,981.8 C1010.4,996.8 1011.4,1013.2 1012.2,1030.1 C1013.1,1046.9 1012.9,1065.9 1014.1,1082.9 C1015.3,1099.9 1017.7,1117.2 1019.5,1132.2 C1021.3,1147.2 1023.7,1162.5 1024.9,1172.9 C1026.1,1183.3 1026.5,1187.2 1026.6,1194.4 C1026.7,1201.6 1025.5,1212.2 1025.3,1215.8" stroke="#4a4a4a" stroke-width="2.2" fill="none" stroke-linecap="round"/>
<path d="M1104.4,1054.7 C1105.8,1059.5 1109.8,1069.9 1113.0,1083.7 C1116.2,1097.5 1120.5,1121.6 1123.7,1137.3 C1126.9,1153.0 1130.9,1171.2 1132.3,1178.0" stroke="#4a4a4a" stroke-width="2.2" fill="none" stroke-linecap="round"/>
<path d="M977.5,768.6 C982.0,773.8 994.5,787.9 1004.3,799.7 C1014.1,811.5 1026.5,826.0 1036.5,839.4 C1046.5,852.8 1055.9,866.8 1064.0,880.0 C1072.1,893.2 1078.0,906.1 1085.1,918.6 C1092.2,931.1 1100.3,944.5 1106.6,955.0 C1112.8,965.5 1117.2,971.4 1122.6,981.8 C1127.9,992.2 1132.4,1003.1 1138.7,1017.2 C1145.0,1031.3 1153.1,1050.8 1160.2,1066.5 C1167.3,1082.2 1175.5,1100.2 1181.6,1111.6 C1187.7,1123.0 1192.5,1129.4 1196.6,1135.1 C1200.7,1140.8 1204.7,1144.1 1206.3,1145.9" stroke="#4a4a4a" stroke-width="3.0" fill="none" stroke-linecap="round"/>
<path d="M1307.7,1119.0 C1307.7,1113.3 1308.0,1096.1 1307.5,1085.0 C1307.0,1073.9 1306.8,1062.6 1305.0,1052.6 C1303.2,1042.6 1300.2,1033.3 1297.0,1025.0 C1293.8,1016.7 1287.8,1006.3 1286.0,1002.6" stroke="#4a4a4a" stroke-width="2.2" fill="none" stroke-linecap="round"/>
<path d="M1526.5,985.4 C1527.2,987.6 1529.5,991.8 1530.8,998.7 C1532.0,1005.6 1533.2,1016.6 1534.0,1026.6 C1534.8,1036.6 1535.0,1050.2 1535.5,1058.7 C1536.0,1067.2 1536.2,1070.9 1537.0,1077.6 C1537.8,1084.3 1538.8,1089.5 1540.6,1099.0 C1542.4,1108.5 1546.5,1128.8 1547.7,1134.7" stroke="#4a4a4a" stroke-width="2.2" fill="none" stroke-linecap="round"/>
<text transform="translate(38,226) scale(0.975,1)" font-size="42.0" class="lb">85</text>
<text transform="translate(503.5,108.8) scale(0.975,1)" font-size="42.0" class="lb">82</text>
<text transform="translate(642.5,115.8) scale(0.975,1)" font-size="42.0" class="lb">84</text>
<text transform="translate(754,113.6) scale(0.975,1)" font-size="42.0" class="lb">71</text>
<rect x="780.7" y="110.3" width="16.2" height="3.3" fill="#0a0a0a"/>
<text transform="translate(873.7,109) scale(0.975,1)" font-size="42.0" class="lb">72</text>
<text transform="translate(1024,94.4) scale(0.975,1)" font-size="42.0" class="lb">51</text>
<rect x="1050.7" y="91.1" width="16.2" height="3.3" fill="#0a0a0a"/>
<text transform="translate(1202.4,81.9) scale(0.975,1)" font-size="42.0" class="lb">53</text>
<text transform="translate(1283.2,41.4) scale(0.975,1)" font-size="42.0" class="lb">3</text>
<text transform="translate(1378.2,105.8) scale(0.975,1)" font-size="42.0" class="lb">83</text>
<text transform="translate(1726.8,282) scale(0.975,1)" font-size="42.0" class="lb">73</text>
<text transform="translate(64,332) scale(0.975,1)" font-size="42.0" class="lb">1</text>
<rect x="67.9" y="328.7" width="16.2" height="3.3" fill="#0a0a0a"/>
<text transform="translate(10.4,447.5) scale(0.975,1)" font-size="42.0" class="lb">81</text>
<rect x="37.1" y="444.2" width="16.2" height="3.3" fill="#0a0a0a"/>
<text transform="translate(18.2,586.7) scale(0.975,1)" font-size="42.0" class="lb">8</text>
<text transform="translate(1904.4,518.9) scale(0.975,1)" font-size="42.0" class="lb">10</text>
<rect x="1908.3" y="515.6" width="16.2" height="3.3" fill="#0a0a0a"/>
<text transform="translate(1769.7,829) scale(0.975,1)" font-size="42.0" class="lb">74</text>
<text transform="translate(1735.9,933.2) scale(0.975,1)" font-size="42.0" class="lb">52</text>
<text transform="translate(296.9,936.8) scale(0.975,1)" font-size="42.0" class="lb">21</text>
<rect x="323.6" y="933.5" width="16.2" height="3.3" fill="#0a0a0a"/>
<text transform="translate(388.3,959.2) scale(0.975,1)" font-size="42.0" class="lb">2</text>
<text transform="translate(394.7,1038.2) scale(0.975,1)" font-size="42.0" class="lb">63</text>
<text transform="translate(294.5,1165) scale(0.975,1)" font-size="42.0" class="lb">62</text>
<text transform="translate(465,1256) scale(0.975,1)" font-size="42.0" class="lb">4</text>
<text transform="translate(686.9,1264) scale(0.975,1)" font-size="42.0" class="lb">622</text>
<text transform="translate(779.9,1266.4) scale(0.975,1)" font-size="42.0" class="lb">613</text>
<rect x="806.6" y="1263.1" width="16.2" height="3.3" fill="#0a0a0a"/>
<text transform="translate(867.8,1296.4) scale(0.975,1)" font-size="42.0" class="lb">621</text>
<rect x="917.3" y="1293.1" width="16.2" height="3.3" fill="#0a0a0a"/>
<text transform="translate(1010,1264) scale(0.975,1)" font-size="42.0" class="lb">54</text>
<text transform="translate(1001.5,1384.6) scale(0.975,1)" font-size="42.0" class="lb">61</text>
<rect x="1028.2" y="1381.3" width="16.2" height="3.3" fill="#0a0a0a"/>
<text transform="translate(1096.8,1218.1) scale(0.975,1)" font-size="42.0" class="lb">612</text>
<rect x="1123.5" y="1214.8" width="16.2" height="3.3" fill="#0a0a0a"/>
<text transform="translate(1205,1183.4) scale(0.975,1)" font-size="42.0" class="lb">5</text>
<text transform="translate(1299.8,1168.4) scale(0.975,1)" font-size="42.0" class="lb">614</text>
<rect x="1326.5" y="1165.1" width="16.2" height="3.3" fill="#0a0a0a"/>
<text transform="translate(1525,1172.6) scale(0.975,1)" font-size="42.0" class="lb">611</text>
<rect x="1551.7" y="1169.3" width="16.2" height="3.3" fill="#0a0a0a"/>
<rect x="1574.5" y="1169.3" width="16.2" height="3.3" fill="#0a0a0a"/>
<text transform="translate(189.5,459) scale(0.7,1)" font-size="31" letter-spacing="0" class="sf">T</text>
<text transform="translate(421.5,459) scale(0.81,1)" font-size="31" letter-spacing="2.6" class="sf">P2</text>
<text transform="translate(1084.6,1060) scale(0.81,1)" font-size="31" letter-spacing="2.6" class="sf">P1</text>
<text transform="translate(172,499.3) scale(0.74,1)" font-size="35" letter-spacing="0" class="sf">EGO</text>
</svg>
</body></html>
